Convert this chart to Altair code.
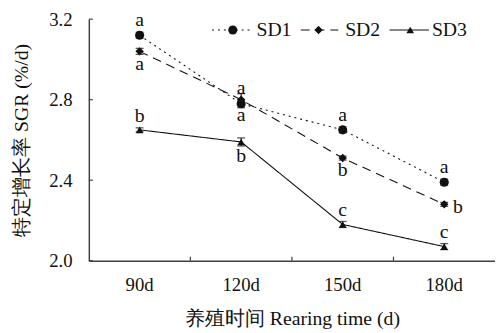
import altair as alt
import pandas as pd

days = ["90d", "120d", "150d", "180d"]
series = ["SD1", "SD2", "SD3"]
sd1 = [3.12, 2.78, 2.65, 2.39]
sd2 = [3.04, 2.80, 2.51, 2.28]
sd3 = [2.65, 2.59, 2.18, 2.07]
err1 = [0.015, 0.02, 0.015, 0.015]
err2 = [0.015, 0.03, 0.01, 0.01]
err3 = [0.01, 0.02, 0.015, 0.015]
let1 = ["a", "a", "a", "a"]
let2 = ["a", "a", "b", "b"]
let3 = ["b", "b", "c", "c"]
pos1 = ["above", "above", "above", "above"]
pos2 = ["below", "below", "below", "right"]
pos3 = ["above", "below", "above", "above"]
y_ticks = [2.0, 2.4, 2.8, 3.2]

rows = []
for s, vals, errs, lets, poss in zip(series, [sd1, sd2, sd3], [err1, err2, err3],
                                     [let1, let2, let3], [pos1, pos2, pos3]):
    for d, v, e, l, p in zip(days, vals, errs, lets, poss):
        ly = v + e if p == "above" else (v - e if p == "below" else v)
        rows.append(dict(day=d, series=s, value=v, lo=v - e, hi=v + e,
                         letter=l, pos=p, ly=ly))
df = pd.DataFrame(rows)

W, H = 412, 245
FONT = "Liberation Serif"
INK = "#111111"

xscale = alt.Scale(domain=days, type="band", paddingInner=0, paddingOuter=0)
yscale = alt.Scale(domain=[2.0, 3.2], nice=False, zero=False)
shape_scale = alt.Scale(domain=series, range=["circle", "diamond", "triangle-up"])
size_scale = alt.Scale(domain=series, range=[85, 60, 85])
dash_scale = alt.Scale(domain=series, range=[[2, 4], [9, 6], [1, 0]])

X = alt.X("day:N", scale=xscale, sort=days,
          axis=alt.Axis(title="养殖时间 Rearing time (d)", ticks=False, labelAngle=0,
                        labelPadding=15, titlePadding=15, domainColor="#404040",
                        domainWidth=1.5))
Y = alt.Y("value:Q", scale=yscale,
          axis=alt.Axis(title="特定增长率 SGR (%/d)", values=y_ticks, format=".1f",
                        ticks=False, labelPadding=17, titlePadding=17,
                        domainColor="#404040", domainWidth=1.5))

base = alt.Chart(df)

lines = base.mark_line(color=INK, strokeWidth=1.1).encode(
    x=X, y=Y,
    strokeDash=alt.StrokeDash("series:N", scale=dash_scale, legend=None),
    detail="series:N",
)
err_rule = base.mark_rule(color=INK, strokeWidth=1.1).encode(
    x=alt.X("day:N", scale=xscale, sort=days), y=alt.Y("lo:Q", scale=yscale), y2="hi:Q")
cap_hi = base.mark_tick(color=INK, orient="horizontal", size=8, thickness=1.3).encode(
    x=alt.X("day:N", scale=xscale, sort=days), y=alt.Y("hi:Q", scale=yscale))
cap_lo = base.mark_tick(color=INK, orient="horizontal", size=8, thickness=1.3).encode(
    x=alt.X("day:N", scale=xscale, sort=days), y=alt.Y("lo:Q", scale=yscale))
points = base.mark_point(filled=True, color=INK, opacity=1).encode(
    x=alt.X("day:N", scale=xscale, sort=days), y=alt.Y("value:Q", scale=yscale),
    shape=alt.Shape("series:N", scale=shape_scale, legend=None),
    size=alt.Size("series:N", scale=size_scale, legend=None),
)

def letters(p, **kw):
    return base.transform_filter(alt.datum.pos == p).mark_text(
        font=FONT, fontSize=20, color=INK, baseline="alphabetic", **kw).encode(
        x=alt.X("day:N", scale=xscale, sort=days), y=alt.Y("ly:Q", scale=yscale),
        text="letter:N")

lab_above = letters("above", dy=-6)
lab_below = letters("below", dy=16)
lab_right = letters("right", dx=9, dy=9, align="left")

# inward tick marks
ytick_df = pd.DataFrame({"tv": y_ticks})
yticks = alt.Chart(ytick_df).mark_rule(color="#404040", strokeWidth=1.2).encode(
    y=alt.Y("tv:Q", scale=yscale), x=alt.value(0), x2=alt.value(4))
xtick_df = pd.DataFrame({"day": days[1:]})
xticks = alt.Chart(xtick_df).mark_rule(color="#404040", strokeWidth=1.2).encode(
    x=alt.X("day:N", scale=xscale, sort=days, bandPosition=0),
    y=alt.value(H), y2=alt.value(H - 4))

# manual legend
leg_y = 11
leg_pos = {"SD1": (125, 165, 146, 170), "SD2": (215, 253, 233, 260),
           "SD3": (305, 345, 326, 348)}
dash_map = {"SD1": [2, 4], "SD2": [9, 6], "SD3": [1, 0]}
legend_layers = []
for s in series:
    a, b, m, t = leg_pos[s]
    ldf = pd.DataFrame({"series": [s]})
    lc = alt.Chart(ldf)
    legend_layers.append(lc.mark_rule(color=INK, strokeWidth=1.1, strokeDash=dash_map[s]).encode(
        x=alt.value(a), x2=alt.value(b), y=alt.value(leg_y)))
    legend_layers.append(lc.mark_point(filled=True, color=INK, opacity=1).encode(
        x=alt.value(m), y=alt.value(leg_y),
        shape=alt.Shape("series:N", scale=shape_scale, legend=None),
        size=alt.Size("series:N", scale=size_scale, legend=None)))
    legend_layers.append(lc.mark_text(font=FONT, fontSize=20, color=INK, align="left",
                                      baseline="middle").encode(
        x=alt.value(t), y=alt.value(leg_y), text="series:N"))

chart = alt.layer(
    lines, err_rule, cap_hi, cap_lo, points, lab_above, lab_below, lab_right,
    yticks, xticks, *legend_layers
).properties(
    width=W, height=H,
    autosize=alt.AutoSizeParams(type="none"),
    padding={"left": 82, "top": 9, "right": 0, "bottom": 70},
    background="white",
).configure_axis(
    labelFont=FONT, titleFont=FONT, labelFontSize=19, titleFontSize=20,
    labelColor=INK, titleColor=INK, titleFontWeight="normal", grid=False,
).configure_view(stroke=None)

chart.save("out.html", embed_options={"renderer": "svg", "actions": False})
